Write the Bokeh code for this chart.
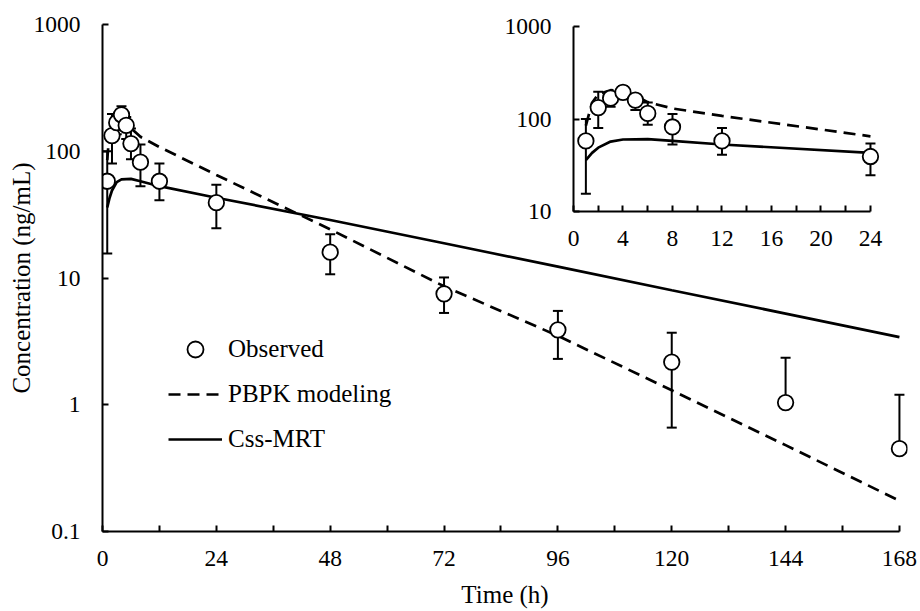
from bokeh.plotting import figure
from bokeh.models import Range1d, FixedTicker, Legend, LegendItem, GridBox, PrintfTickFormatter
from bokeh.embed import file_html
from bokeh.resources import INLINE

FONT = "Liberation Serif"

# ---------------- data ----------------
time_obs = [1, 2, 3, 4, 5, 6, 8, 12, 24, 48, 72, 96, 120, 144, 168]
obs_mean = [58, 133, 168, 194, 160, 115, 82, 58, 39.3, 16.0, 7.5, 3.9, 2.17, 1.04, 0.45]
obs_upper = [100, 197, 197, 226, 186, 151, 113, 80, 54.5, 22.1, 10.1, 5.5, 3.7, 2.35, 1.2]
obs_lower = [15.6, 80, 136, 165, 125, 86.5, 53, 41, 24.7, 10.7, 5.3, 2.3, 0.66, None, None]

pbpk_t = [1, 1.5, 2, 3, 4, 5, 6, 8, 12, 24, 48, 72, 96, 120, 144, 168]
pbpk_c = [85, 150, 185, 205, 200, 178, 152, 130, 108, 65, 24.2, 8.6, 3.5, 1.3, 0.48, 0.175]

css_t = [1, 1.5, 2, 3, 4, 6, 8, 12, 24, 48, 72, 96, 120, 144, 168]
css_c = [36, 43, 49, 57, 60, 60.5, 58, 53, 43, 28.7, 18.8, 12.3, 8.0, 5.24, 3.42]

main_x_ticks = [0, 24, 48, 72, 96, 120, 144, 168]
main_x_minor = [12, 36, 60, 84, 108, 132, 156]
main_y_ticks = [0.1, 1, 10, 100, 1000]
main_y_labels = ["0.1", "1", "10", "100", "1000"]

inset_x_ticks = [0, 4, 8, 12, 16, 20, 24]
inset_x_minor = [2, 6, 10, 14, 18, 22]
inset_y_ticks = [10, 100, 1000]
inset_y_labels = ["10", "100", "1000"]

legend_labels = ["Observed", "PBPK modeling", "Css-MRT"]

# shared borders (Bokeh aligns plot frames inside a grid)
B_LEFT, B_RIGHT, B_TOP, B_BOTTOM = 102, 13, 24, 80


def style_axes(fig, xt, xm, xbounds, yt, ylabels):
    for ax in (fig.xaxis[0], fig.yaxis[0]):
        ax.axis_line_width = 2
        ax.axis_line_color = "black"
        ax.major_tick_in = 6
        ax.major_tick_out = 0
        ax.minor_tick_in = 6
        ax.minor_tick_out = 0
        ax.major_tick_line_width = 2
        ax.minor_tick_line_width = 2
        ax.major_tick_line_color = "black"
        ax.minor_tick_line_color = "black"
        ax.major_label_text_font = FONT
        ax.major_label_text_font_size = "23.5px"
        ax.major_label_text_color = "black"
        ax.axis_label_text_font = FONT
        ax.axis_label_text_font_style = "normal"
        ax.axis_label_text_font_size = "25px"
        ax.axis_label_text_color = "black"
    xa = fig.xaxis[0]
    xa.ticker = FixedTicker(ticks=xt, minor_ticks=xm)
    xa.bounds = xbounds
    xa.major_label_standoff = 19
    ya = fig.yaxis[0]
    ya.ticker = FixedTicker(ticks=yt, minor_ticks=[])
    ya.formatter = PrintfTickFormatter(format="%g")
    ya.major_label_overrides = {t: l for t, l in zip(yt, ylabels)}
    ya.major_label_standoff = 22
    fig.grid.visible = False
    fig.outline_line_color = None


def draw_data(fig, tmax):
    idx = [i for i, t in enumerate(time_obs) if t <= tmax]
    ts = [time_obs[i] for i in idx]
    mn = [obs_mean[i] for i in idx]
    up = [obs_upper[i] for i in idx]
    lo = [obs_lower[i] if obs_lower[i] is not None else obs_mean[i] for i in idx]
    lo_t = [time_obs[i] for i in idx if obs_lower[i] is not None]
    lo_v = [obs_lower[i] for i in idx if obs_lower[i] is not None]

    pi = [i for i, t in enumerate(pbpk_t) if t <= tmax]
    ci = [i for i, t in enumerate(css_t) if t <= tmax]
    r_pbpk = fig.line([pbpk_t[i] for i in pi], [pbpk_c[i] for i in pi],
                      line_color="black", line_width=2.7, line_dash="12 7")
    r_css = fig.line([css_t[i] for i in ci], [css_c[i] for i in ci],
                     line_color="black", line_width=2.7)
    fig.segment(x0=ts, y0=lo, x1=ts, y1=up, line_color="black", line_width=2)
    fig.scatter(x=ts, y=up, marker="dash", size=10, line_color="black", line_width=2)
    fig.scatter(x=lo_t, y=lo_v, marker="dash", size=10, line_color="black", line_width=2)
    r_obs = fig.scatter(x=ts, y=mn, marker="circle", size=15.5, fill_color="white",
                        line_color="black", line_width=1.8)
    return r_obs, r_pbpk, r_css


# ---------------- main figure ----------------
p = figure(width=920, height=611, output_backend="svg", toolbar_location=None,
           x_range=Range1d(0, 169.7), y_range=Range1d(0.1, 1000), y_axis_type="log",
           min_border_left=B_LEFT, min_border_right=B_RIGHT,
           min_border_top=B_TOP, min_border_bottom=B_BOTTOM)
p.background_fill_color = "white"
p.border_fill_color = "white"
style_axes(p, main_x_ticks, main_x_minor, (0, 168), main_y_ticks, main_y_labels)
p.xaxis[0].axis_label = "Time (h)"
p.xaxis[0].axis_label_standoff = 12
p.yaxis[0].axis_label = "Concentration (ng/mL)"
p.yaxis[0].axis_label_standoff = -4

r_obs, r_pbpk, r_css = draw_data(p, 1e9)

legend = Legend(items=[LegendItem(label=legend_labels[0], renderers=[r_obs]),
                       LegendItem(label=legend_labels[1], renderers=[r_pbpk]),
                       LegendItem(label=legend_labels[2], renderers=[r_css])],
                location=(66, 72), padding=0, margin=0, spacing=5,
                glyph_width=54, glyph_height=40, label_height=40, label_standoff=6,
                label_text_font=FONT, label_text_font_size="25px", label_text_color="black",
                border_line_color=None, background_fill_alpha=0)
p.add_layout(legend)

# ---------------- inset figure ----------------
# frame: 306 x 185 px, placed so that its frame starts at (573, 26) on the page
q = figure(width=B_LEFT + 306 + B_RIGHT, height=B_TOP + 185 + B_BOTTOM,
           output_backend="svg", toolbar_location=None,
           x_range=Range1d(0, 24.73), y_range=Range1d(10, 1000), y_axis_type="log",
           min_border_left=B_LEFT, min_border_right=B_RIGHT,
           min_border_top=B_TOP, min_border_bottom=B_BOTTOM)
q.background_fill_color = None
q.border_fill_color = None
style_axes(q, inset_x_ticks, inset_x_minor, (0, 24), inset_y_ticks, inset_y_labels)
draw_data(q, 24)
q.margin = (2, 0, 0, 573 - B_LEFT)

layout = GridBox(children=[(p, 0, 0), (q, 0, 0)])

open("out.html", "w").write(file_html(layout, INLINE))
